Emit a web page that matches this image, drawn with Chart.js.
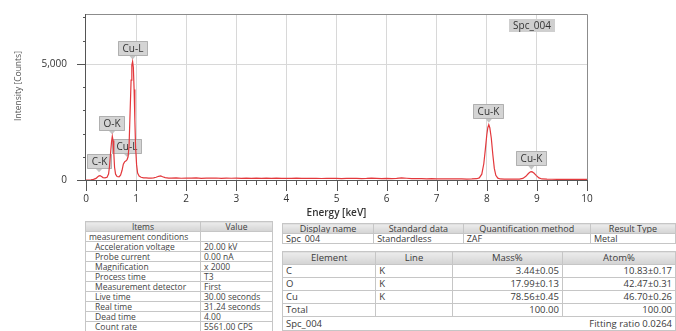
<!DOCTYPE html>
<html><head><meta charset="utf-8">
<script src="https://cdn.jsdelivr.net/npm/chart.js@4.4.0/dist/chart.umd.min.js"></script>
<style>
html,body{margin:0;padding:0;background:#fff;}
body{width:676px;height:331px;overflow:hidden;position:relative;font-family:"Open Sans",sans-serif;}
#wrap{position:absolute;left:0;top:0;width:676px;height:220px;}
#c{display:block;}
table{position:absolute;border-collapse:collapse;table-layout:fixed;color:#444;}
td,th{border:1px solid #c6c6c6;padding:0 3px;white-space:nowrap;overflow:hidden;font-weight:normal;box-sizing:border-box;}
th{background:linear-gradient(#ececec,#d3d3d3);text-align:center;color:#3c3c3c;}
#t1{left:85px;top:221px;font-size:8.5px;}
#t1 tr{height:10px;} #t1 td,#t1 th{line-height:9px;}
#t1 td.ind{padding-left:9px;}
#t2{left:282px;top:223px;font-size:9px;color:#3a3a3a;}
#t2 tr{height:10px;} #t2 td,#t2 th{line-height:9px;}
#t3{left:282px;top:251px;font-size:9.5px;color:#3a3a3a;}
#t3 tr{height:13px;} #t3 td,#t3 th{line-height:12px;}
#t3 td.r{text-align:right;}
</style>
</head><body>
<div id="wrap"><canvas id="c" width="676" height="220"></canvas></div>
<table id="t1"></table>
<table id="t2"></table>
<table id="t3"></table>
<script>
// ---- spectrum data (energy keV, intensity counts) ----
const energy = [0.00,0.05,0.10,0.15,0.20,0.23,0.26,0.28,0.31,0.34,0.38,0.42,0.45,0.47,0.49,0.51,0.525,0.54,0.555,0.57,0.59,0.62,0.66,0.69,0.72,0.745,0.77,0.80,0.82,0.84,0.86,0.88,0.90,0.915,0.93,0.945,0.96,0.975,0.99,1.01,1.03,1.06,1.10,1.15,1.20,1.25,1.30,1.35,1.40,1.45,1.49,1.53,1.58,1.65,1.70,1.80,1.90,2.00,2.10,2.20,2.30,2.40,2.50,2.60,2.70,2.80,2.90,3.00,3.10,3.20,3.30,3.40,3.50,3.60,3.70,3.80,3.90,4.00,4.10,4.20,4.30,4.40,4.50,4.60,4.70,4.80,4.90,5.00,5.10,5.20,5.30,5.40,5.50,5.60,5.70,5.80,5.90,6.00,6.10,6.20,6.30,6.40,6.50,6.60,6.70,6.80,6.90,7.00,7.10,7.20,7.30,7.40,7.50,7.60,7.70,7.80,7.85,7.90,7.94,7.97,8.00,8.02,8.04,8.06,8.09,8.12,8.15,8.18,8.22,8.27,8.35,8.45,8.55,8.65,8.72,8.78,8.83,8.87,8.90,8.94,8.99,9.04,9.10,9.20,9.30,9.40,9.50,9.60,9.70,9.80,9.90,10.00];
const counts = [0,0,5,25,70,130,180,190,150,105,90,120,260,600,1150,1650,1880,1700,1150,550,250,150,140,210,420,680,780,830,880,1000,1500,2900,4300,4950,5100,4850,3900,2600,1400,650,300,170,120,95,90,80,85,95,120,160,175,140,100,85,80,88,75,82,78,90,74,84,79,86,72,80,76,83,70,78,74,82,69,77,72,80,68,75,70,78,66,73,69,76,64,71,67,74,62,70,66,72,60,68,82,70,60,66,58,70,90,75,62,56,60,52,58,50,54,47,52,45,48,42,45,55,90,250,700,1300,1950,2250,2380,2250,1800,1100,500,200,80,45,38,35,36,40,70,160,280,350,360,300,190,90,45,35,32,30,33,28,30,27,29,26];
// ---- peak labels ----
const peakNames  = ['C-K','O-K','Cu-L','Cu-L','Cu-K','Cu-K'];
const peakEnergy = [0.26, 0.52, 0.93, 0.82, 8.04, 8.89];
const peakCounts = [250, 1880, 5100, 900, 2380, 360];
const spectrumName = 'Spc_004';
// ---- axes ----
const yLabelValues = [0, 5000];
const yLabelTexts  = ['0', '5,000'];
const yMinorStep = 1000;
const yMax = 7150;

// ---- tables ----
const condItems  = ['measurement conditions','Acceleration voltage','Probe current','Magnification','Process time','Measurement detector','Live time','Real time','Dead time','Count rate'];
const condValues = ['','20.00 kV','0.00 nA','x 2000','T3','First','30.00 seconds','31.24 seconds','4.00','5561.00 CPS'];
const infoHeads  = ['Display name','Standard data','Quantification method','Result Type'];
const infoValues = ['Spc_004','Standardless','ZAF','Metal'];
const elements   = ['C','O','Cu','Total'];
const lines      = ['K','K','K',''];
const massPct    = ['3.44±0.05','17.99±0.13','78.56±0.45','100.00'];
const atomPct    = ['10.83±0.17','42.47±0.31','46.70±0.26','100.00'];
const fitting    = 'Fitting ratio 0.0264';

(function buildTables(){
  let h = '<colgroup><col style="width:115px"><col style="width:72px"></colgroup><tr><th>Items</th><th>Value</th></tr>';
  condItems.forEach((it,i)=>{ h += '<tr><td class="'+(i?'ind':'')+'">'+it+'</td><td>'+condValues[i]+'</td></tr>'; });
  document.getElementById('t1').innerHTML = h;
  let h2 = '<colgroup><col style="width:93px"><col style="width:91px"><col style="width:129px"><col style="width:87px"></colgroup><tr>';
  infoHeads.forEach(t=>h2+='<th>'+t+'</th>'); h2+='</tr><tr>';
  infoValues.forEach(t=>h2+='<td>'+t+'</td>'); h2+='</tr>';
  document.getElementById('t2').innerHTML = h2;
  let h3 = '<colgroup><col style="width:95px"><col style="width:78px"><col style="width:112px"><col style="width:115px"></colgroup><tr><th>Element</th><th>Line</th><th>Mass%</th><th>Atom%</th></tr>';
  elements.forEach((e,i)=>{ h3 += '<tr><td>'+e+'</td><td>'+lines[i]+'</td><td class="r">'+massPct[i]+'</td><td class="r">'+atomPct[i]+'</td></tr>'; });
  h3 += '<tr><td colspan="4" style="height:14px"><span style="float:left">'+spectrumName+'</span><span style="float:right">'+fitting+'</span></td></tr>';
  document.getElementById('t3').innerHTML = h3;
})();

const FONT = '"Open Sans", sans-serif';

const overlay = {
  id: 'overlay',
  beforeDatasetsDraw(chart){
    const {ctx, scales:{x,y}, chartArea:a} = chart;
    ctx.save();
    ctx.lineWidth = 1;
    // horizontal grid line at the labelled 5,000 level
    ctx.strokeStyle = '#d8d8d8';
    ctx.beginPath();
    yLabelValues.forEach(v => { if (v > 0) { const py = Math.round(y.getPixelForValue(v)) + 0.5; ctx.moveTo(a.left, py); ctx.lineTo(a.right, py); } });
    ctx.stroke();
    // peak labels
    ctx.font = '10px ' + FONT;
    ctx.textAlign = 'center'; ctx.textBaseline = 'middle';
    peakNames.forEach((n,i)=>{
      const px = x.getPixelForValue(peakEnergy[i]);
      const tip = y.getPixelForValue(peakCounts[i]) - 2;
      const w = Math.round(ctx.measureText(n).width + 9), hgt = 15;
      let cx = px;
      if (cx - w/2 < a.left + 1) cx = a.left + 1 + w/2;
      const bottom = tip - 3.5, top = Math.round(bottom - hgt);
      const lx = Math.round(cx - w/2);
      ctx.fillStyle = '#d4d4d4';
      ctx.fillRect(lx, top, w, hgt);
      ctx.strokeStyle = '#b0b0b0';
      ctx.beginPath(); ctx.rect(lx+0.5, top+0.5, w-1, hgt-1); ctx.stroke();
      ctx.beginPath(); ctx.moveTo(px-3, top+hgt); ctx.lineTo(px, tip); ctx.lineTo(px+3, top+hgt); ctx.closePath();
      ctx.fillStyle = '#c4c4c4'; ctx.fill();
      ctx.fillStyle = '#333'; ctx.fillText(n, lx + w/2, top + hgt/2 + 0.5);
    });
    const sw = Math.round(ctx.measureText(spectrumName).width + 8);
    const sx = Math.round(a.right - 32 - sw), sy = Math.round(a.top + 5);
    ctx.fillStyle = '#cfcfcf'; ctx.fillRect(sx, sy, sw, 13);
    ctx.fillStyle = '#333'; ctx.fillText(spectrumName, sx + sw/2, sy + 7);
    ctx.restore();
  },
  afterDraw(chart){
    const {ctx, scales:{x,y}, chartArea:a} = chart;
    ctx.save();
    ctx.lineWidth = 1;
    const L = Math.round(a.left), T = Math.round(a.top), R = Math.round(a.right), B = Math.round(a.bottom);
    ctx.strokeStyle = '#8c8c8c';
    ctx.beginPath(); ctx.moveTo(L, T+0.5); ctx.lineTo(R+0.5, T+0.5); ctx.lineTo(R+0.5, B); ctx.stroke();
    ctx.strokeStyle = '#555';
    ctx.beginPath(); ctx.moveTo(L-0.5, T); ctx.lineTo(L-0.5, B+0.5); ctx.lineTo(R+1, B+0.5); ctx.stroke();
    ctx.beginPath();
    for (let i = 0; i <= 50; i++) {
      const px = Math.round(x.getPixelForValue(i/5)) + 0.5;
      const len = (i % 5 === 0) ? 11 : 5;
      ctx.moveTo(px, B); ctx.lineTo(px, B + len);
    }
    for (let v = 0; v <= yMax; v += yMinorStep) {
      const py = Math.round(y.getPixelForValue(v)) + 0.5;
      const len = yLabelValues.includes(v) ? 9 : 3;
      ctx.moveTo(L, py); ctx.lineTo(L - len, py);
    }
    ctx.stroke();
    // y tick labels
    ctx.font = '10px ' + FONT; ctx.fillStyle = '#333'; ctx.textAlign = 'right'; ctx.textBaseline = 'middle';
    yLabelValues.forEach((v,i) => ctx.fillText(yLabelTexts[i], L - 19, y.getPixelForValue(v)));
    // y axis title
    ctx.translate(19, 86); ctx.rotate(-Math.PI/2);
    ctx.font = '8.5px ' + FONT; ctx.fillStyle = '#555'; ctx.textAlign = 'center';
    ctx.fillText('Intensity [Counts]', 0, 0);
    ctx.restore();
  }
};

new Chart(document.getElementById('c'), {
  type: 'line',
  data: { datasets: [{
    data: energy.map((e,i)=>({x:e, y:counts[i]})),
    borderColor: '#e3383c', borderWidth: 1.2, pointRadius: 0, tension: 0, fill: false
  }]},
  options: {
    responsive: false, animation: false,
    layout: { padding: { left: 0, top: 14, right: 89, bottom: 0 } },
    plugins: { legend: { display: false }, tooltip: { enabled: false } },
    scales: {
      x: {
        type: 'linear', min: 0, max: 10,
        afterFit: s => { s.height = 40; },
        ticks: { stepSize: 1, padding: 13, color: '#333', font: { family: FONT, size: 10 }, maxRotation: 0, autoSkip: false },
        grid: { drawTicks: false, color: c => (c.tick && c.tick.value > 0 && c.tick.value < 10) ? '#d8d8d8' : 'rgba(0,0,0,0)' },
        border: { display: false },
        title: { display: true, text: 'Energy [keV]', color: '#333', font: { family: FONT, size: 10, weight: '600' }, padding: { top: 0, bottom: 1 } }
      },
      y: {
        min: 0, max: yMax,
        afterFit: s => { s.width = 86; s.paddingTop = 0; s.paddingBottom = 0; },
        ticks: { display: false },
        grid: { display: false },
        border: { display: false }
      }
    }
  },
  plugins: [overlay]
});
</script>
</body></html>
